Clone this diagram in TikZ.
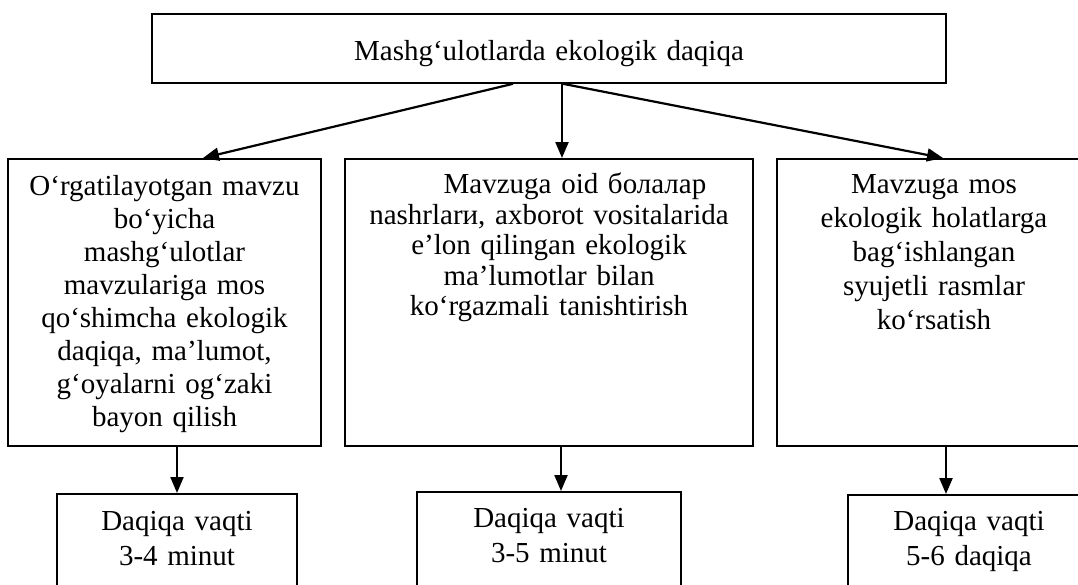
\documentclass[tikz,border=0pt]{standalone}
\usepackage{fontspec}
\setmainfont{Liberation Serif}
\usetikzlibrary{arrows.meta}
\newcommand{\daq}[1]{\fontsize{29}{#1}\selectfont}

\begin{document}
\begin{tikzpicture}[x=1pt,y=-1pt]
                        \tikzstyle{box}=[draw, line width=1.8pt, inner sep=0pt, align=center, font=\daq{33}]
                        \tikzstyle{arr}=[line width=2.2pt, -{Triangle[length=16pt,width=13pt]}]
                        \useasboundingbox (0,0) rectangle (1078,584);
                        % top
                        \node[box, anchor=north, text width=794pt, text height=47pt, text depth=22pt] (title) at (549,13)
                            {Mashg‘ulotlarda ekologik daqiqa};
                        % middle row
                        \node[box, anchor=north, text width=313pt, text height=37pt, text depth=250pt] (topic) at (164.5,158)
                            {O‘rgatilayotgan mavzu\\ bo‘yicha\\ mashg‘ulotlar\\ mavzulariga mos\\ qo‘shimcha ekologik\\ daqiqa, ma’lumot,\\ g‘oyalarni og‘zaki\\ bayon qilish};
                        \node[box, anchor=north, text width=408pt, text height=35pt, text depth=252pt, font=\daq{30.5}] (press) at (549,158)
                            {\hspace*{52pt}Mavzuga oid болалар\\ nashrlarи, axborot vositalarida\\ e’lon qilingan ekologik\\ ma’lumotlar bilan\\ ko‘rgazmali tanishtirish};
                        \node[box, anchor=north, text width=314pt, text height=35pt, text depth=252pt, font=\daq{34}] (pics) at (934,158)
                            {Mavzuga mos\\ ekologik holatlarga\\ bag‘ishlangan\\ syujetli rasmlar\\ ko‘rsatish};
                        % bottom row
                        \node[box, anchor=north, text width=240pt, text height=37pt, text depth=75pt, font=\daq{35}] (timeA) at (177,493)
                            {Daqiqa vaqti\\ 3-4 minut};
                        \node[box, anchor=north, text width=264pt, text height=36pt, text depth=75pt, font=\daq{35}] (timeB) at (549,491)
                            {Daqiqa vaqti\\ 3-5 minut};
                        \node[box, anchor=north, text width=242pt, text height=36pt, text depth=75pt, font=\daq{35}] (timeC) at (969,494)
                            {Daqiqa vaqti\\ 5-6 daqiqa};
                        % arrows
                        \draw[arr] ([xshift=-36pt]title.south) -- ([xshift=38.5pt]topic.north);
                        \draw[arr] ([xshift=13pt]title.south) -- ([xshift=13pt]press.north);
                        \draw[arr] ([xshift=14pt]title.south) -- ([xshift=9pt]pics.north);
                        \draw[arr] ([xshift=12.5pt]topic.south) -- (timeA.north);
                        \draw[arr] ([xshift=12pt]press.south) -- ([xshift=12pt]timeB.north);
                        \draw[arr] ([xshift=12pt]pics.south) -- ([xshift=-23pt]timeC.north);
                    \end{tikzpicture}
\end{document}
